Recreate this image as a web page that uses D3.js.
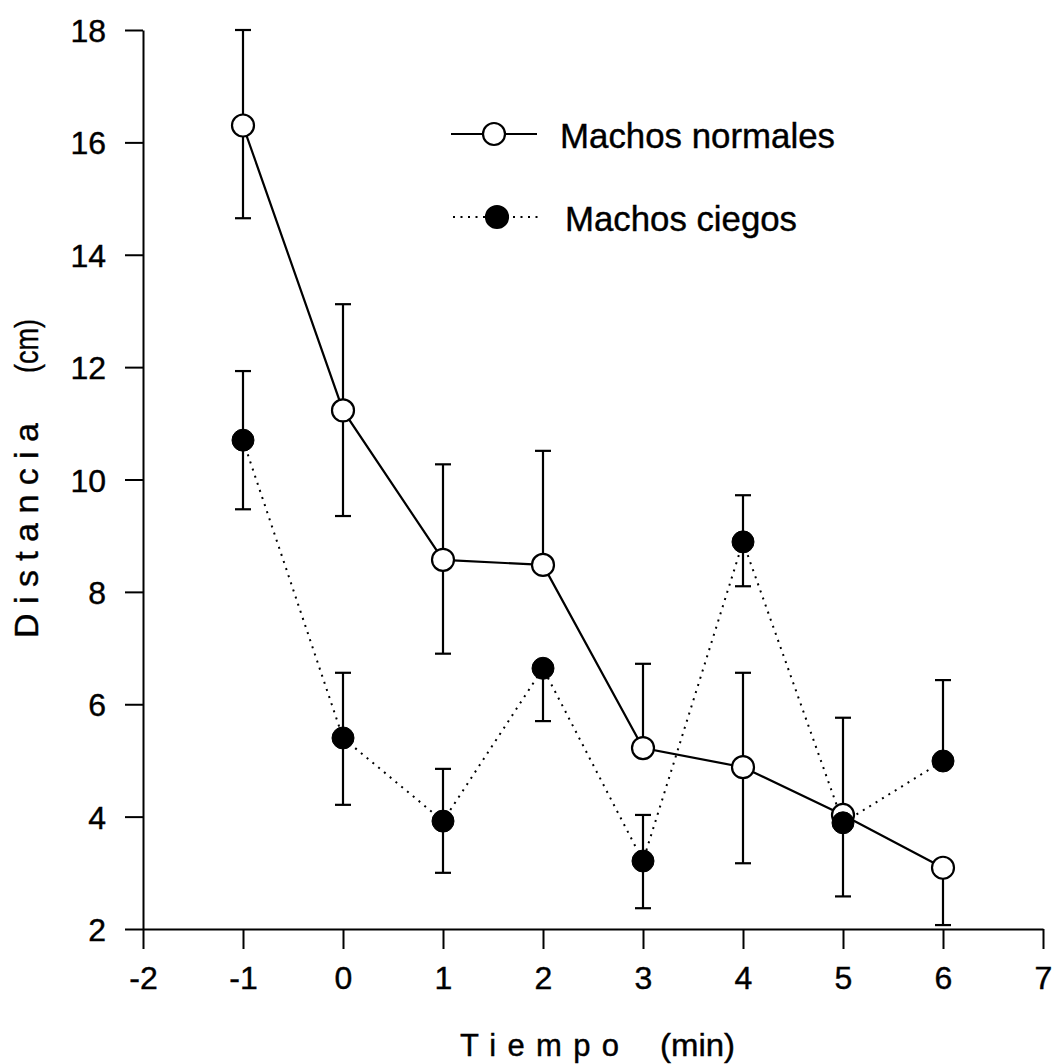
<!DOCTYPE html>
<html>
<head>
<meta charset="utf-8">
<script src="https://cdn.jsdelivr.net/npm/d3@7"></script>
<style>
  html, body { margin: 0; padding: 0; background: #fff; }
  svg { display: block; font-family: "Liberation Sans", Arial, sans-serif; }
</style>
</head>
<body>
<svg id="chart" width="1055" height="1064"></svg>
<script>
// Time points (min)
const tiempo = [-1, 0, 1, 2, 3, 4, 5, 6];

// Machos normales: mean distance and error bar ends (null = bar not drawn)
const normalMean  = [16.3, 11.23, 8.57, 8.48, 5.22, 4.88, 4.03, 3.09];
const normalUpper = [18.0, 13.12, 10.27, 10.51, 6.72, 6.56, 5.76, null];
const normalLower = [14.65, 9.35, 6.9, null, null, 3.17, 2.58, 2.07];

// Machos ciegos
const blindMean  = [10.7, 5.4, 3.92, 6.64, 3.21, 8.89, 3.89, 4.99];
const blindUpper = [11.93, 6.56, 4.85, null, 4.03, 9.72, null, 6.43];
const blindLower = [9.47, 4.21, 3.0, 5.7, 2.37, 8.1, null, null];

// Axis ticks
const xTicks = [-2, -1, 0, 1, 2, 3, 4, 5, 6, 7];
const yTicks = [2, 4, 6, 8, 10, 12, 14, 16, 18];

const seriesNames = ["Machos normales", "Machos ciegos"];

const svg = d3.select("#chart");
const x = d3.scaleLinear().domain([-2, 7]).range([143, 1043]);
const y = d3.scaleLinear().domain([2, 18]).range([929, 30]);

const tickFont = 32;
const fmt = d => String(d);

// Axes
const yAxis = svg.append("g")
  .attr("transform", `translate(${x(-2)},0)`)
  .call(d3.axisLeft(y).tickValues(yTicks).tickSize(18).tickSizeOuter(0).tickPadding(19).tickFormat(fmt));
const xAxis = svg.append("g")
  .attr("transform", `translate(0,${y(2)})`)
  .call(d3.axisBottom(x).tickValues(xTicks).tickSize(20).tickSizeOuter(0).tickPadding(17).tickFormat(fmt));

[yAxis, xAxis].forEach(g => {
  g.select(".domain").attr("stroke", "#000").attr("stroke-width", 2);
  g.selectAll(".tick line").attr("stroke", "#000").attr("stroke-width", 2);
  g.selectAll(".tick text").attr("fill", "#000").attr("font-size", tickFont)
    .attr("stroke", "#000").attr("stroke-width", 0.4)
    .attr("font-family", "'Liberation Sans', Arial, sans-serif");
});
yAxis.selectAll(".tick text").attr("dy", "0.36em");
xAxis.selectAll(".tick text").attr("dy", "0.71em");

// Axis titles: letter-spaced words followed by the unit
function title(parts) {
  parts.forEach(p => {
    svg.append("text")
      .attr("transform", `translate(${p.x},${p.y}) rotate(${p.rot})`)
      .attr("font-size", p.size)
      .attr("fill", "#000").attr("stroke", "#000").attr("stroke-width", 0.4)
      .attr("textLength", p.len)
      .attr("lengthAdjust", p.adjust)
      .text(p.text);
  });
}
title([
  { text: "Tiempo", x: 460, y: 1056, rot: 0, size: 31, len: 159, adjust: "spacing" },
  { text: "(min)",  x: 660, y: 1056, rot: 0, size: 31, len: 75, adjust: "spacingAndGlyphs" },
  { text: "Distancia", x: 38, y: 638, rot: -90, size: 34, len: 215, adjust: "spacing" },
  { text: "(cm)",      x: 38, y: 373, rot: -90, size: 34, len: 54, adjust: "spacingAndGlyphs" }
]);

const normal = tiempo.map((t, i) => ({ t, m: normalMean[i], hi: normalUpper[i], lo: normalLower[i] }));
const blind  = tiempo.map((t, i) => ({ t, m: blindMean[i],  hi: blindUpper[i],  lo: blindLower[i] }));

const line = d3.line().x(d => x(d.t)).y(d => y(d.m));

// Connecting lines
svg.append("path").datum(blind).attr("d", line)
  .attr("fill", "none").attr("stroke", "#000").attr("stroke-width", 2)
  .attr("stroke-dasharray", "2,5.5");
svg.append("path").datum(normal).attr("d", line)
  .attr("fill", "none").attr("stroke", "#000").attr("stroke-width", 2.2);

// Error bars
const capHalf = 8;
function errorBars(data) {
  const g = svg.append("g").attr("stroke", "#000").attr("stroke-width", 2.2);
  data.forEach(d => {
    [d.hi, d.lo].forEach(v => {
      if (v == null) return;
      g.append("line").attr("x1", x(d.t)).attr("x2", x(d.t)).attr("y1", y(d.m)).attr("y2", y(v));
      g.append("line").attr("x1", x(d.t) - capHalf).attr("x2", x(d.t) + capHalf).attr("y1", y(v)).attr("y2", y(v));
    });
  });
}
errorBars(normal);
errorBars(blind);

// Markers
const r = 11;
svg.append("g").selectAll("circle").data(normal).join("circle")
  .attr("cx", d => x(d.t)).attr("cy", d => y(d.m)).attr("r", r)
  .attr("fill", "#fff").attr("stroke", "#000").attr("stroke-width", 2.2);
svg.append("g").selectAll("circle").data(blind).join("circle")
  .attr("cx", d => x(d.t)).attr("cy", d => y(d.m)).attr("r", r)
  .attr("fill", "#000").attr("stroke", "#000").attr("stroke-width", 1);

// Legend
const legend = svg.append("g");
const legRows = [
  { name: seriesNames[0], cy: 134, fill: "#fff", dash: null, x1: 451, x2: 537, cx: 494, textX: 560, base: 148, len: 275 },
  { name: seriesNames[1], cy: 217, fill: "#000", dash: "2,5.5", x1: 453, x2: 538, cx: 497, textX: 565, base: 231, len: 232 }
];
legRows.forEach(row => {
  legend.append("line").attr("x1", row.x1).attr("x2", row.x2).attr("y1", row.cy).attr("y2", row.cy)
    .attr("stroke", "#000").attr("stroke-width", 2)
    .attr("stroke-dasharray", row.dash);
  legend.append("circle").attr("cx", row.cx).attr("cy", row.cy).attr("r", r)
    .attr("fill", row.fill).attr("stroke", "#000").attr("stroke-width", 2.2);
  legend.append("text").attr("x", row.textX).attr("y", row.base)
    .attr("font-size", 35).attr("fill", "#000").attr("stroke", "#000").attr("stroke-width", 0.4)
    .attr("textLength", row.len).attr("lengthAdjust", "spacingAndGlyphs")
    .text(row.name);
});
</script>
</body>
</html>
